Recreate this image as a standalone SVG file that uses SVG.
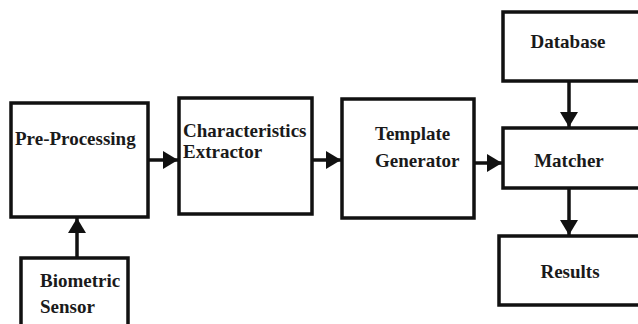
<svg xmlns="http://www.w3.org/2000/svg" width="638" height="324" viewBox="0 0 638 324">
<style>
.box{fill:#fff;stroke:#111;stroke-width:3.5}
.t{font-family:"Liberation Serif","Times New Roman",serif;font-weight:bold;font-size:19px;fill:#1a1a1a}
.c{text-anchor:middle}
.ln{stroke:#111;stroke-width:3.5;fill:none}
</style>
<defs>
<marker id="ah" markerUnits="userSpaceOnUse" markerWidth="16" markerHeight="20" refX="15" refY="10" orient="auto">
<polygon points="0,1 15,10 0,19" fill="#111"/>
</marker>
</defs>
<rect width="638" height="324" fill="#fff"/>
<g id="connectors">
<line class="ln" x1="148" y1="160" x2="178" y2="160" marker-end="url(#ah)"/>
<line class="ln" x1="312" y1="160" x2="341" y2="160" marker-end="url(#ah)"/>
<line class="ln" x1="474" y1="163" x2="502" y2="163" marker-end="url(#ah)"/>
<line class="ln" x1="569" y1="81" x2="569" y2="127" marker-end="url(#ah)"/>
<line class="ln" x1="569" y1="188" x2="569" y2="235" marker-end="url(#ah)"/>
<line class="ln" x1="77" y1="258" x2="77" y2="218" marker-end="url(#ah)"/>
</g>
<g id="preprocessing">
<rect class="box" x="11" y="103" width="137" height="114"/>
<text class="t" x="15" y="145">Pre-Processing</text>
</g>
<g id="extractor">
<rect class="box" x="179" y="98" width="133" height="116"/>
<text class="t" x="183" y="137">Characteristics</text>
<text class="t" x="183" y="158">Extractor</text>
</g>
<g id="template">
<rect class="box" x="342" y="99" width="132" height="119"/>
<text class="t" x="375" y="140">Template</text>
<text class="t" x="375" y="167">Generator</text>
</g>
<g id="database">
<rect class="box" x="503" y="12" width="138" height="69"/>
<text class="t c" x="568" y="48">Database</text>
</g>
<g id="matcher">
<rect class="box" x="503" y="128" width="138" height="60"/>
<text class="t c" x="569" y="167">Matcher</text>
</g>
<g id="results">
<rect class="box" x="499" y="236" width="142" height="69"/>
<text class="t c" x="570" y="278">Results</text>
</g>
<g id="sensor">
<rect class="box" x="21" y="258" width="107" height="80"/>
<text class="t" x="40" y="287">Biometric</text>
<text class="t" x="40" y="313">Sensor</text>
</g>
</svg>
